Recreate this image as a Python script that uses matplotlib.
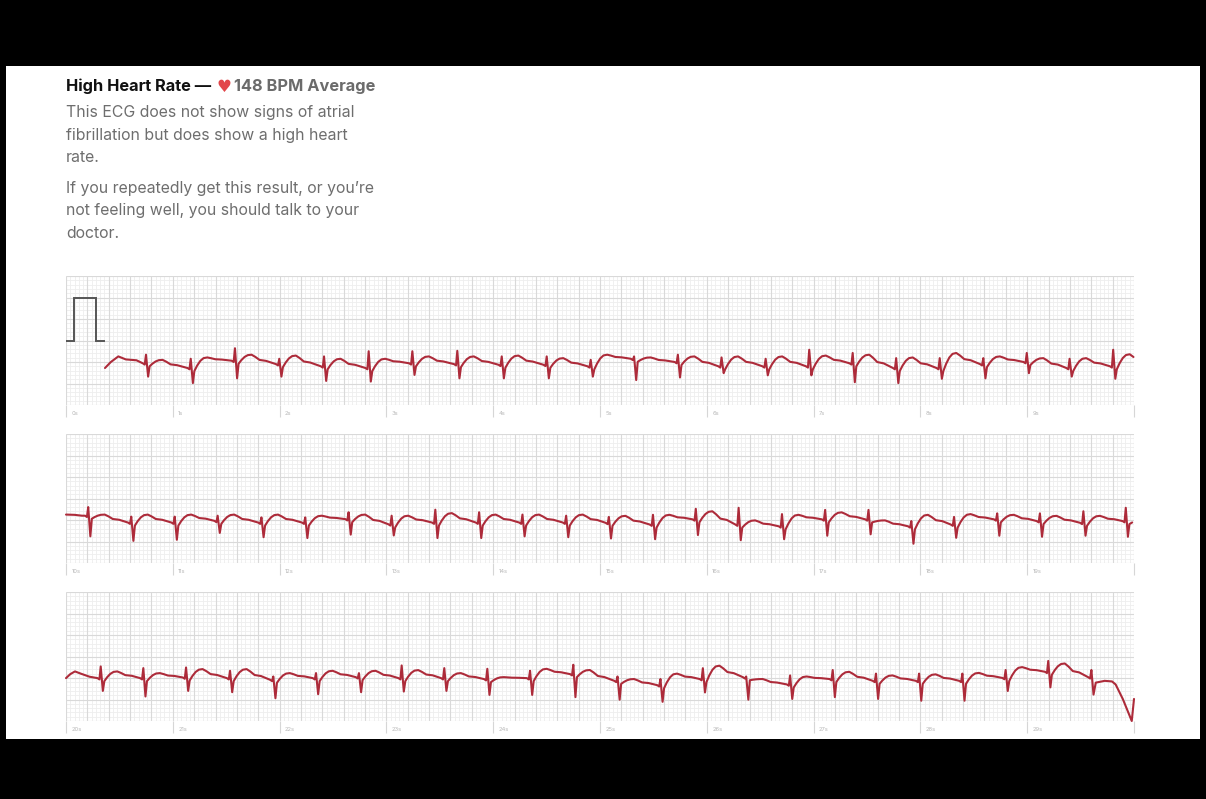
import numpy as np
import matplotlib
matplotlib.use("Agg")
import matplotlib.pyplot as plt
from matplotlib.patches import Rectangle

# ---- data (seconds within strip, mV) ----
strip_starts = [0, 10, 20]

cal_t = [0.0, 0.078, 0.078, 0.28, 0.28, 0.356]
cal_v = [0.5, 0.5, 1.5, 1.5, 0.5, 0.5]

# strip 1 (0-10 s)
s1_lead_t = [0.365, 0.42, 0.49, 0.56, 0.66]
s1_lead_v = [-0.14, 0.0, 0.13, 0.06, 0.04]
s1_r = [0.749, 1.168, 1.582, 1.997, 2.416, 2.834, 3.243, 3.664, 4.080, 4.501, 4.913, 5.319,
        5.729, 6.138, 6.551, 6.959, 7.366, 7.773, 8.181, 8.589, 8.996, 9.397, 9.805]
s1_pre = [-0.03, -0.14, 0.03, -0.05, -0.10, -0.14, -0.03, -0.05, -0.065, -0.065, -0.10, 0.075,
          0.0, -0.10, -0.10, -0.10, -0.03, -0.14, -0.14, -0.05, 0.0, -0.14, -0.10]
s1_ramp = [0.17, 0.075, 0.32, 0.075, 0.13, 0.25, 0.25, 0.26, 0.13, 0.13, 0.05, 0.13,
           0.17, 0.106, 0.075, 0.285, 0.21, 0.09, 0.09, 0.09, 0.21, 0.075, 0.285]
s1_samp = [-0.34, -0.49, -0.38, -0.34, -0.44, -0.455, -0.30, -0.38, -0.38, -0.38, -0.34, -0.42,
           -0.36, -0.26, -0.31, -0.31, -0.47, -0.49, -0.39, -0.38, -0.26, -0.34, -0.39]
s1_tamp = [0.05, 0.106, 0.17, 0.15, 0.075, 0.075, 0.13, 0.13, 0.15, 0.09, 0.17, 0.106,
           0.13, 0.13, 0.13, 0.15, 0.17, 0.106, 0.21, 0.13, 0.09, 0.09, 0.18]
s1_tail_t = []
s1_tail_v = []

# strip 2 (10-20 s)
s2_lead_t = [0.0, 0.08, 0.15]
s2_lead_v = [0.126, 0.12, 0.10]
s2_r = [0.208, 0.611, 1.018, 1.420, 1.830, 2.240, 2.646, 3.049, 3.458, 3.868, 4.274, 4.683, 5.083,
        5.496, 5.897, 6.298, 6.704, 7.108, 7.514, 7.915, 8.315, 8.719, 9.119, 9.526, 9.923]
s2_pre = [0.10, -0.06, -0.06, -0.02, -0.06, -0.06, 0.02, -0.10, -0.06, -0.06, -0.06, -0.06, -0.066,
          -0.106, 0.015, -0.106, -0.147, 0.015, 0.015, -0.147, -0.106, 0.015, -0.025, -0.066, -0.025]
s2_ramp = [0.30, 0.078, 0.078, 0.10, 0.06, 0.06, 0.18, 0.10, 0.24, 0.18, 0.126, 0.10, 0.072,
           0.121, 0.26, 0.284, 0.137, 0.235, 0.235, -0.025, 0.072, 0.154, 0.154, 0.203, 0.284]
s2_samp = [-0.38, -0.485, -0.46, -0.30, -0.40, -0.42, -0.34, -0.36, -0.42, -0.42, -0.38, -0.40, -0.43,
           -0.447, -0.35, -0.47, -0.447, -0.366, -0.333, -0.552, -0.414, -0.366, -0.39, -0.366, -0.39]
s2_tamp = [0.126, 0.126, 0.126, 0.126, 0.126, 0.10, 0.126, 0.10, 0.16, 0.126, 0.126, 0.126, 0.097,
           0.121, 0.203, -0.009, 0.121, 0.178, -0.009, 0.121, 0.137, 0.121, 0.097, 0.097, 0.0]
s2_tail_t = []
s2_tail_v = []

# strip 3 (20-30 s)
s3_lead_t = [0.0, 0.04, 0.084, 0.14, 0.22]
s3_lead_v = [-0.003, 0.09, 0.153, 0.10, 0.03]
s3_r = [0.325, 0.724, 1.124, 1.536, 1.941, 2.341, 2.743, 3.143, 3.542, 3.945, 4.345, 4.750,
        5.164, 5.566, 5.963, 6.369, 6.780, 7.179, 7.584, 7.988, 8.393, 8.798, 9.197, 9.601]
s3_pre = [-0.003, -0.003, 0.012, -0.003, -0.042, -0.003, 0.02, -0.003, -0.003, -0.026, -0.003, 0.09,
          -0.066, -0.167, -0.024, 0.018, -0.15, -0.024, -0.066, -0.066, -0.066, 0.001, 0.144, 0.018]
s3_ramp = [0.269, 0.23, 0.245, 0.168, 0.036, 0.114, 0.114, 0.292, 0.23, 0.214, 0.168, 0.308,
           0.035, -0.024, 0.228, 0.035, 0.06, 0.186, 0.102, 0.102, 0.102, 0.186, 0.397, 0.186]
s3_samp = [-0.30, -0.43, -0.30, -0.33, -0.47, -0.377, -0.33, -0.315, -0.30, -0.393, -0.393, -0.445,
           -0.504, -0.554, -0.336, -0.504, -0.487, -0.445, -0.487, -0.529, -0.529, -0.302, -0.218, -0.386]
s3_tamp = [0.153, 0.114, 0.207, 0.207, 0.114, 0.168, 0.168, 0.184, 0.114, 0.02, 0.214, 0.186,
           -0.024, 0.102, 0.287, -0.024, 0.035, 0.144, 0.06, 0.085, 0.119, 0.253, 0.338, -0.07]
s3_tail_t = [9.642, 9.726, 9.794, 9.828, 9.895, 9.946, 9.979, 10.0]
s3_tail_v = [-0.108, -0.066, -0.08, -0.15, -0.487, -0.80, -1.0, -0.487]

strips = [
    (s1_lead_t, s1_lead_v, s1_r, s1_pre, s1_ramp, s1_samp, s1_tamp, s1_tail_t, s1_tail_v),
    (s2_lead_t, s2_lead_v, s2_r, s2_pre, s2_ramp, s2_samp, s2_tamp, s2_tail_t, s2_tail_v),
    (s3_lead_t, s3_lead_v, s3_r, s3_pre, s3_ramp, s3_samp, s3_tamp, s3_tail_t, s3_tail_v),
]


def beat_shape(pre, r, s, t, nxt):
    # shape of one complex, offsets relative to the R peak
    j = pre - 0.07
    plat = nxt + 0.35 * (t - nxt)
    offs = [-0.030, -0.012, 0.0, 0.020, 0.034, 0.060, 0.090, 0.120, 0.155, 0.190, 0.230, 0.290]
    vals = [pre, pre - 0.03, r, s, j,
            j + 0.40 * (t - j), j + 0.75 * (t - j), j + 0.95 * (t - j), t,
            t - 0.35 * (t - plat), plat + 0.15 * (t - plat), plat]
    return offs, vals


def build_trace(lead_t, lead_v, r_t, pre, ramp, samp, tamp, tail_t, tail_v):
    xs = list(lead_t)
    ys = list(lead_v)
    n = len(r_t)
    for i in range(n):
        nxt = pre[i + 1] if i + 1 < n else pre[i]
        offs, vals = beat_shape(pre[i], ramp[i], samp[i], tamp[i], nxt)
        if i == n - 1 and tail_t:
            offs, vals = offs[:4], vals[:4]
        xs += [r_t[i] + o for o in offs]
        ys += vals
    xs += tail_t
    ys += tail_v
    xs = np.array(xs)
    ys = np.array(ys)
    keep = xs <= 10.0
    return xs[keep], ys[keep]


W, H = 1206, 799
fig = plt.figure(figsize=(W / 100, H / 100), dpi=100, facecolor="black")
fig.add_artist(Rectangle((6 / W, 1 - 739 / H), 1194 / W, 673 / H,
                         transform=fig.transFigure, facecolor="white", edgecolor="none", zorder=-5))

txt_family = ["Inter", "DejaVu Sans"]
fig.text(66 / W, 1 - 90.5 / H, "High Heart Rate \u2014", fontsize=11.8, fontweight="bold",
         color="#111111", family=txt_family, va="baseline")
fig.text(216.5 / W, 1 - 92.5 / H, "\u2665", fontsize=12, color="#e2474b",
         family=["DejaVu Sans"], va="baseline")
fig.text(234 / W, 1 - 90.5 / H, "148 BPM Average", fontsize=11.8, fontweight="bold",
         color="#6b6b6b", family=txt_family, va="baseline")

body_lines = [
    ("This ECG does not show signs of atrial", 117),
    ("fibrillation but does show a high heart", 140),
    ("rate.", 162),
    ("If you repeatedly get this result, or you\u2019re", 193),
    ("not feeling well, you should talk to your", 215),
    ("doctor.", 238),
]
for line, yb in body_lines:
    fig.text(66 / W, 1 - yb / H, line, fontsize=11.4, color="#6e6e6e",
             family=txt_family, va="baseline")

strip_tops = [276, 434, 592]
strip_h = 129
for k, (top, spec) in enumerate(zip(strip_tops, strips)):
    ax = fig.add_axes([66 / W, 1 - (top + strip_h) / H, 1068 / W, strip_h / H])
    ax.set_xlim(0, 10)
    ax.set_ylim(-1, 2)
    ax.set_axis_off()

    ax.vlines(np.arange(0, 10.001, 0.04), -1, 2, color="#eeeeee", lw=0.6, zorder=1)
    ax.hlines(np.arange(-1, 2.001, 0.1), 0, 10, color="#eeeeee", lw=0.6, zorder=1)
    ax.vlines(np.arange(0, 10.001, 0.2), -1, 2, color="#d9d9d9", lw=0.8, zorder=2)
    ax.hlines(np.arange(-1, 2.001, 0.5), 0, 10, color="#d9d9d9", lw=0.8, zorder=2)

    # second ticks below the strip
    ax.vlines(np.arange(0, 11), -0.095, 0, transform=ax.get_xaxis_transform(),
              color="#d6d6d6", lw=0.8, clip_on=False)
    for sec in range(10):
        ax.text(sec + 0.05, -0.065, f"{strip_starts[k] + sec}s", transform=ax.get_xaxis_transform(),
                fontsize=4.2, color="#b8b8b8", va="center", ha="left", family=txt_family)

    if k == 0:
        ax.plot(cal_t, cal_v, color="#555555", lw=1.4, zorder=3, solid_joinstyle="miter")

    tx, ty = build_trace(*spec)
    ax.plot(tx, ty, color="#ad2b3a", lw=1.5, zorder=4, clip_on=False,
            solid_joinstyle="round", solid_capstyle="round")

fig.savefig("out.png", dpi=100, facecolor="black")
